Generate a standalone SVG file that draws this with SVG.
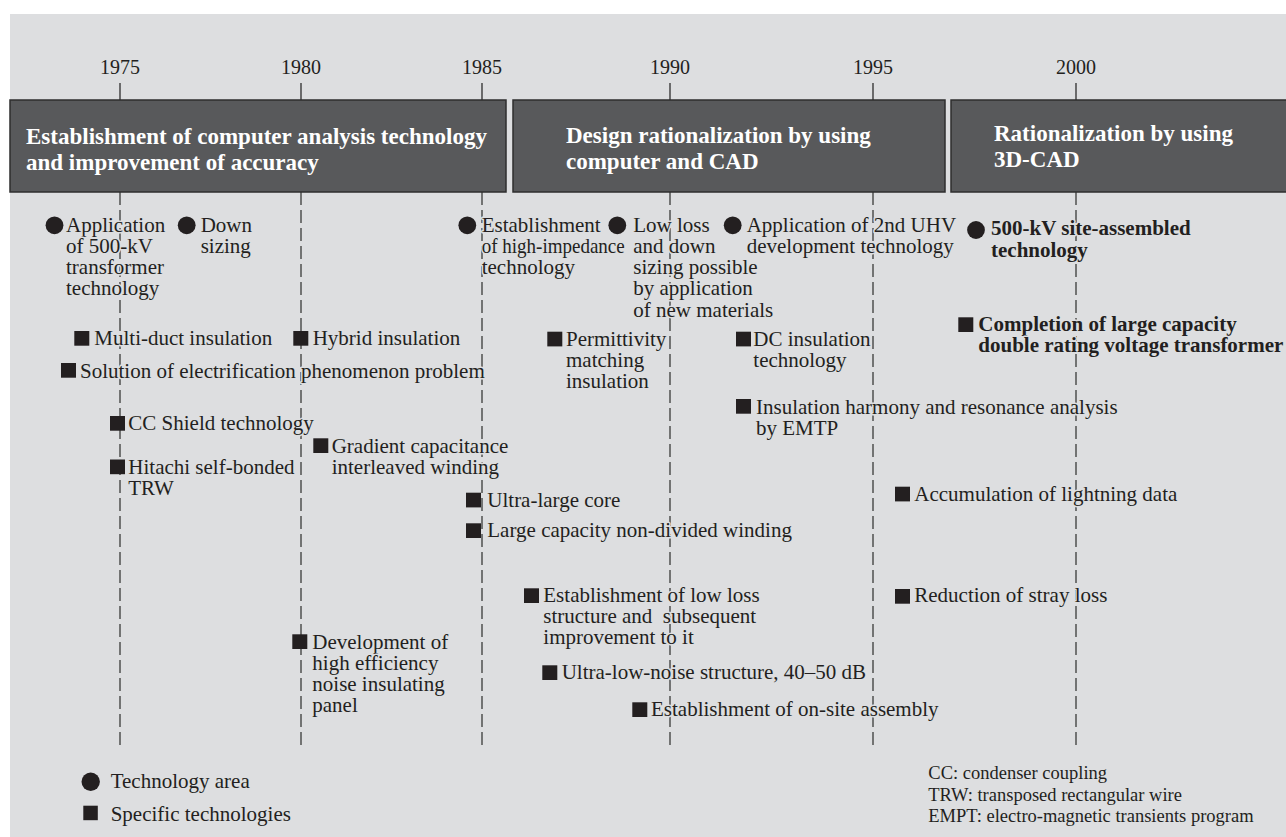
<svg xmlns="http://www.w3.org/2000/svg" width="1286" height="837" viewBox="0 0 1286 837">
<style>
.bg{fill:#dddee0}
.yr{font-family:"Liberation Serif","Times New Roman",serif;font-size:20px;fill:#231f20;text-anchor:middle}
.tick{stroke:#3a3a3a;stroke-width:1.4}
.dash{stroke:#3a3a3a;stroke-width:1.3;stroke-dasharray:13 5;fill:none}
.hbox{fill:#58595b;stroke:#2e2e2e;stroke-width:1.5}
.htxt{font-family:"Liberation Serif","Times New Roman",serif;font-size:23px;font-weight:bold;fill:#ffffff}
.t{font-family:"Liberation Serif","Times New Roman",serif;font-size:21px;fill:#231f20;stroke:#dddee0;stroke-width:3;paint-order:stroke;stroke-linejoin:round;white-space:pre}
.b{font-weight:bold}
.dot{fill:#231f20}
.sq{fill:#231f20}
.note{font-family:"Liberation Serif","Times New Roman",serif;font-size:18.5px;fill:#231f20}
</style>
<rect x="10" y="14" width="1276" height="823" class="bg"/>

<g id="years">
<text class="yr" x="120" y="74">1975</text>
<text class="yr" x="301" y="74">1980</text>
<text class="yr" x="482" y="74">1985</text>
<text class="yr" x="670" y="74">1990</text>
<text class="yr" x="873" y="74">1995</text>
<text class="yr" x="1076" y="74">2000</text>
<line class="tick" x1="120" y1="83" x2="120" y2="100"/>
<line class="tick" x1="301" y1="83" x2="301" y2="100"/>
<line class="tick" x1="482" y1="83" x2="482" y2="100"/>
<line class="tick" x1="670" y1="83" x2="670" y2="100"/>
<line class="tick" x1="873" y1="83" x2="873" y2="100"/>
<line class="tick" x1="1076" y1="83" x2="1076" y2="100"/>
</g>

<g id="connectors">
<line class="dash" x1="120" y1="192" x2="120" y2="745"/>
<line class="dash" x1="301" y1="192" x2="301" y2="745"/>
<line class="dash" x1="482" y1="192" x2="482" y2="745"/>
<line class="dash" x1="670" y1="192" x2="670" y2="745"/>
<line class="dash" x1="873" y1="192" x2="873" y2="745"/>
<line class="dash" x1="1076" y1="192" x2="1076" y2="745"/>
</g>

<g id="phase1">
<rect class="hbox" x="10" y="100" width="496" height="92"/>
<text class="htxt" x="26" y="144">Establishment of computer analysis technology</text>
<text class="htxt" x="26" y="170">and improvement of accuracy</text>
</g>
<g id="phase2">
<rect class="hbox" x="513" y="100" width="432" height="92"/>
<text class="htxt" x="566" y="143">Design rationalization by using</text>
<text class="htxt" x="566" y="169">computer and CAD</text>
</g>
<g id="phase3">
<rect class="hbox" x="951" y="100" width="340" height="92"/>
<text class="htxt" x="994" y="141">Rationalization by using</text>
<text class="htxt" x="994" y="167">3D-CAD</text>
</g>

<g id="app500">
<circle class="dot" cx="54.5" cy="225.3" r="8.9"/>
<text class="t" x="66" y="231.7">Application</text>
<text class="t" x="66" y="253">of 500-kV</text>
<text class="t" x="66" y="274.2">transformer</text>
<text class="t" x="66" y="295.4">technology</text>
</g>
<g id="downsizing">
<circle class="dot" cx="186.7" cy="225.3" r="8.9"/>
<text class="t" x="200.7" y="231.7">Down</text>
<text class="t" x="200.7" y="253">sizing</text>
</g>
<g id="lowloss">
<circle class="dot" cx="617.3" cy="225.3" r="8.9"/>
<text class="t" x="633.3" y="231.7">Low loss</text>
<text class="t" x="633.3" y="253">and down</text>
<text class="t" x="633.3" y="274.2">sizing possible</text>
<text class="t" x="633.3" y="295.4">by application</text>
<text class="t" x="633.3" y="316.6">of new materials</text>
</g>
<g id="highimp">
<circle class="dot" cx="467.3" cy="225.3" r="8.9"/>
<text class="t" x="481.7" y="231.7">Establishment</text>
<text class="t" x="481.7" y="253" textLength="143" lengthAdjust="spacingAndGlyphs">of high-impedance</text>
<text class="t" x="481.7" y="274.2">technology</text>
</g>
<g id="uhv">
<circle class="dot" cx="732.7" cy="225.3" r="8.9"/>
<text class="t" x="746.7" y="231.7">Application of 2nd UHV</text>
<text class="t" x="746.7" y="253">development technology</text>
</g>
<g id="site500">
<circle class="dot" cx="976" cy="230" r="8.9"/>
<text class="t b" x="991" y="235">500-kV site-assembled</text>
<text class="t b" x="991" y="256.5">technology</text>
</g>

<g id="multiduct">
<rect class="sq" x="74.3" y="331" width="15" height="14.7"/>
<text class="t" x="94.3" y="345">Multi-duct insulation</text>
</g>
<g id="hybrid">
<rect class="sq" x="293.3" y="331" width="15" height="14.7"/>
<text class="t" x="312.7" y="345">Hybrid insulation</text>
</g>
<g id="electrification">
<rect class="sq" x="61" y="363" width="15" height="14.7"/>
<text class="t" x="80" y="377.7">Solution of electrification phenomenon problem</text>
</g>
<g id="ccshield">
<rect class="sq" x="110" y="416" width="15" height="14.7"/>
<text class="t" x="128.3" y="430">CC Shield technology</text>
</g>
<g id="gradient">
<rect class="sq" x="313.3" y="438.3" width="15" height="14.7"/>
<text class="t" x="331.7" y="453">Gradient capacitance</text>
<text class="t" x="331.7" y="474.2">interleaved winding</text>
</g>
<g id="hitachi">
<rect class="sq" x="110" y="459.5" width="15" height="14.7"/>
<text class="t" x="128.3" y="474">Hitachi self-bonded</text>
<text class="t" x="128.3" y="495.2">TRW</text>
</g>
<g id="ultracore">
<rect class="sq" x="466" y="492.7" width="15" height="14.7"/>
<text class="t" x="487.3" y="506.5">Ultra-large core</text>
</g>
<g id="nondivided">
<rect class="sq" x="466" y="523.3" width="15" height="14.7"/>
<text class="t" x="487.3" y="537">Large capacity non-divided winding</text>
</g>
<g id="permittivity">
<rect class="sq" x="547.3" y="331.7" width="15" height="14.7"/>
<text class="t" x="566" y="345.5">Permittivity</text>
<text class="t" x="566" y="366.7">matching</text>
<text class="t" x="566" y="387.9">insulation</text>
</g>
<g id="dcins">
<rect class="sq" x="736" y="331.7" width="15" height="14.7"/>
<text class="t" x="753.3" y="345.5">DC insulation</text>
<text class="t" x="753.3" y="366.7">technology</text>
</g>
<g id="harmony">
<rect class="sq" x="736" y="399" width="15" height="14.7"/>
<text class="t" x="756" y="413.5">Insulation harmony and resonance analysis</text>
<text class="t" x="756" y="434.7">by EMTP</text>
</g>
<g id="completion">
<rect class="sq" x="958.3" y="317.3" width="15" height="14.7"/>
<text class="t b" x="978.3" y="331">Completion of large capacity</text>
<text class="t b" x="978.3" y="352">double rating voltage transformer</text>
</g>
<g id="lightning">
<rect class="sq" x="895" y="486.7" width="15" height="14.7"/>
<text class="t" x="914.3" y="500.5">Accumulation of lightning data</text>
</g>
<g id="stray">
<rect class="sq" x="895" y="589" width="15" height="14.7"/>
<text class="t" x="914.3" y="602">Reduction of stray loss</text>
</g>
<g id="lowlossstruct">
<rect class="sq" x="524" y="588.3" width="15" height="14.7"/>
<text class="t" x="543.3" y="602">Establishment of low loss</text>
<text class="t" x="543.3" y="623.2">structure and  subsequent</text>
<text class="t" x="543.3" y="644.4">improvement to it</text>
</g>
<g id="lownoise">
<rect class="sq" x="542.3" y="665.3" width="15" height="14.7"/>
<text class="t" x="561.7" y="679.3">Ultra-low-noise structure, 40–50 dB</text>
</g>
<g id="onsite">
<rect class="sq" x="632.3" y="702.3" width="15" height="14.7"/>
<text class="t" x="651" y="716">Establishment of on-site assembly</text>
</g>
<g id="panel">
<rect class="sq" x="292.3" y="634.3" width="15" height="14.7"/>
<text class="t" x="312.3" y="648.5">Development of</text>
<text class="t" x="312.3" y="669.7">high efficiency</text>
<text class="t" x="312.3" y="690.9">noise insulating</text>
<text class="t" x="312.3" y="712.1">panel</text>
</g>

<g id="legend">
<circle class="dot" cx="90.7" cy="781.7" r="9.2"/>
<text class="t" x="110.7" y="788.3">Technology area</text>
<rect class="sq" x="83.3" y="805.7" width="14.5" height="14.5"/>
<text class="t" x="110.7" y="820.7">Specific technologies</text>
</g>
<g id="notes">
<text class="note" x="928.3" y="779.3">CC: condenser coupling</text>
<text class="note" x="928.3" y="801">TRW: transposed rectangular wire</text>
<text class="note" x="928.3" y="822.3">EMPT: electro-magnetic transients program</text>
</g>
</svg>
